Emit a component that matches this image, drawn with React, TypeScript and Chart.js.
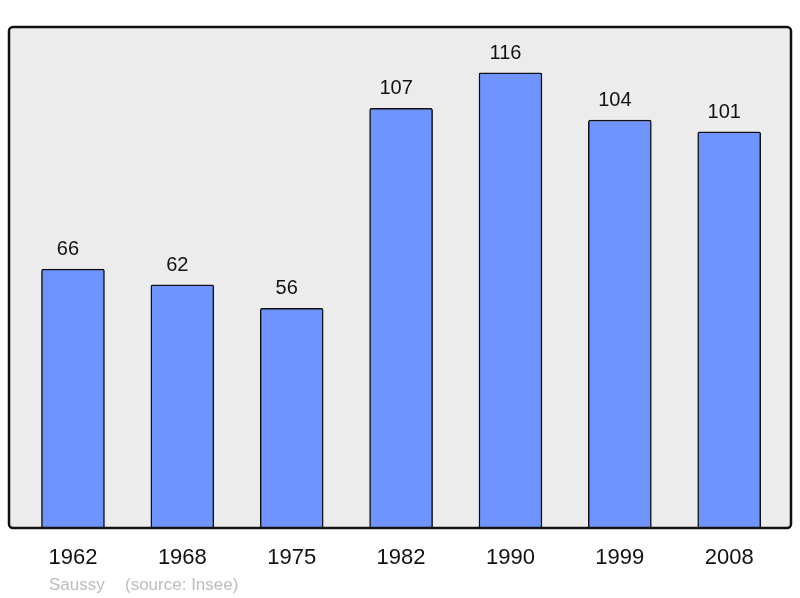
import { useEffect, useRef } from 'react';
import { Chart, registerables } from 'chart.js';

Chart.register(...registerables);

const years = ['1962', '1968', '1975', '1982', '1990', '1999', '2008'];
const population = [66, 62, 56, 107, 116, 104, 101];
const townName = 'Saussy';
const sourceText = '(source: Insee)';

const FONT = '"Liberation Sans", Arial, sans-serif';

const framePlugin = {
  id: 'frame',
  beforeDatasetsDraw(chart: any) {
    const { ctx, chartArea: a } = chart;
    ctx.save();
    ctx.beginPath();
    ctx.roundRect(a.left, a.top, a.right - a.left, a.bottom - a.top, 4);
    ctx.fillStyle = '#ececec';
    ctx.fill();
    ctx.restore();
  },
  afterDatasetsDraw(chart: any) {
    const { ctx, chartArea: a } = chart;
    ctx.save();
    ctx.beginPath();
    ctx.roundRect(a.left, a.top, a.right - a.left, a.bottom - a.top, 4);
    ctx.lineWidth = 2.5;
    ctx.strokeStyle = '#111';
    ctx.stroke();
    ctx.restore();
  },
  afterDraw(chart: any) {
    const { ctx, scales } = chart;
    const x = scales.x;
    const y = scales.y;
    ctx.save();
    ctx.textAlign = 'center';
    ctx.textBaseline = 'alphabetic';
    ctx.fillStyle = '#111';
    population.forEach((v, i) => {
      const px = x.getPixelForValue(i);
      ctx.font = `20px ${FONT}`;
      ctx.fillText(String(v), px - 5, y.getPixelForValue(v) - 14);
      ctx.font = `22px ${FONT}`;
      ctx.fillText(years[i], px, 564);
    });
    ctx.textAlign = 'left';
    ctx.font = `17px ${FONT}`;
    ctx.fillStyle = '#bdbdbd';
    ctx.fillText(townName, 49, 590);
    ctx.fillText(sourceText, 125, 590);
    ctx.restore();
  },
};

export default function App() {
  const canvasRef = useRef<HTMLCanvasElement>(null);

  useEffect(() => {
    if (!canvasRef.current) return;

    const chart = new Chart(canvasRef.current, {
      type: 'bar',
      data: {
        datasets: [{
          data: population.map((v, i) => ({ x: i, y: v })),
          backgroundColor: '#7094ff',
          borderColor: '#111',
          borderWidth: 1.5,
          borderSkipped: 'bottom',
          borderRadius: 2,
          barThickness: 63,
        }],
      },
      options: {
        responsive: true,
        maintainAspectRatio: false,
        animation: false,
        layout: { padding: { left: 9, top: 27, right: 9, bottom: 70 } },
        scales: {
          x: { type: 'linear', offset: false, min: -0.585, max: 6.565, display: false },
          y: { min: 0, max: 127.7, display: false },
        },
        plugins: {
          legend: { display: false },
          tooltip: { enabled: false },
        },
      },
      plugins: [framePlugin],
    });

    return () => {
      chart.destroy();
    };
  }, []);

  return (
    <div style={{ position: 'fixed', left: 0, top: 0, width: 800, height: 598, background: '#fff' }}>
      <canvas ref={canvasRef} style={{ width: '100%', height: '100%' }} />
    </div>
  );
}
